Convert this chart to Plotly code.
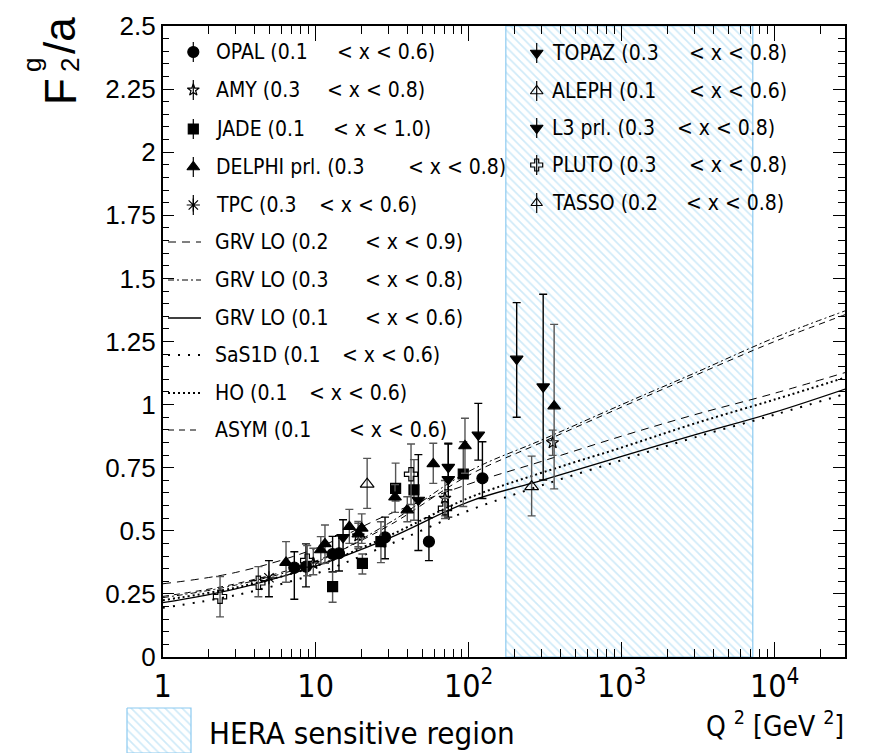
import plotly.graph_objects as go

W, H = 875, 753

# ---------------- data ----------------
OPAL_Q2 = [7.25, 8.64, 12.9, 14.2, 28.4, 55, 123]
OPAL_F = [0.354, 0.358, 0.408, 0.411, 0.474, 0.457, 0.708]
OPAL_UP = [0.063, 0.09, 0.07, 0.07, 0.08, 0.095, 0.145]
OPAL_DN = [0.125, 0.08, 0.07, 0.07, 0.085, 0.075, 0.08]

AMY_Q2 = [9.65, 19.0, 70.0, 354.0]
AMY_F = [0.371, 0.48, 0.629, 0.849]
AMY_UP = [0.06, 0.05, 0.07, 0.05]
AMY_DN = [0.045, 0.05, 0.07, 0.05]

JADE_Q2 = [12.9, 20.2, 26.7, 33.3, 43.9, 92.2]
JADE_F = [0.279, 0.371, 0.457, 0.668, 0.662, 0.725]
JADE_UP = [0.057, 0.037, 0.079, 0.10, 0.12, 0.128]
JADE_DN = [0.062, 0.042, 0.083, 0.05, 0.12, 0.129]

DELPHI_Q2 = [6.4, 10.8, 11.5, 16.6, 19.0, 20.0, 33.0, 39.7, 58.7, 94.6, 362.0]
DELPHI_F = [0.374, 0.424, 0.448, 0.516, 0.487, 0.510, 0.633, 0.582, 0.765, 0.836, 0.994]
DELPHI_UP = [0.083, 0.053, 0.075, 0.069, 0.05, 0.057, 0.05, 0.053, 0.082, 0.11, 0.324]
DELPHI_DN = [0.078, 0.053, 0.077, 0.066, 0.05, 0.06, 0.06, 0.046, 0.077, 0.108, 0.328]

TPC_Q2 = [4.95]
TPC_F = [0.314]
TPC_UP = [0.068]
TPC_DN = [0.075]

TOPAZ_Q2 = [15.1, 46.9, 73.6, 115.6, 206.0]
TOPAZ_F = [0.474, 0.622, 0.752, 0.88, 1.181]
TOPAZ_UP = [0.07, 0.18, 0.095, 0.125, 0.223]
TOPAZ_DN = [0.07, 0.20, 0.09, 0.10, 0.231]

ALEPH_Q2 = [258.0]
ALEPH_F = [0.675]
ALEPH_UP = [0.121]
ALEPH_DN = [0.116]

L3_Q2 = [73.6, 307.0]
L3_F = [0.704, 1.071]
L3_UP = [0.14, 0.366]
L3_DN = [0.15, 0.37]

PLUTO_Q2 = [2.37, 4.22, 8.8, 42.0, 70.0]
PLUTO_F = [0.239, 0.294, 0.382, 0.724, 0.589]
PLUTO_UP = [0.08, 0.064, 0.06, 0.12, 0.04]
PLUTO_DN = [0.08, 0.055, 0.06, 0.12, 0.04]

TASSO_Q2 = [21.7]
TASSO_F = [0.685]
TASSO_UP = [0.102]
TASSO_DN = [0.096]

# theory curves
CURVE_Q2 = [1, 3, 10, 30, 100, 300, 1000, 3000, 10000, 30000]
GRV_02_09 = [0.29, 0.335, 0.43, 0.565, 0.685, 0.775, 0.875, 0.96, 1.045, 1.13]
GRV_03_08 = [0.235, 0.285, 0.375, 0.53, 0.735, 0.86, 1.0, 1.125, 1.265, 1.375]
GRV_01_06 = [0.215, 0.27, 0.36, 0.47, 0.615, 0.70, 0.795, 0.88, 0.97, 1.065]
SAS1D = [0.195, 0.245, 0.33, 0.445, 0.58, 0.68, 0.78, 0.87, 0.96, 1.045]
HO = [0.225, 0.275, 0.36, 0.48, 0.63, 0.73, 0.83, 0.925, 1.02, 1.11]
ASYM = [0.24, 0.29, 0.38, 0.52, 0.72, 0.85, 0.99, 1.115, 1.25, 1.36]

HERA_Q2 = [175, 7200]
Y_RANGE = [0, 2.5]

X_TICKS = [1, 10, 100, 1000, 10000]
X_TICK_TEXT = ["1", "10", "10<sup>2</sup>", "10<sup>3</sup>", "10<sup>4</sup>"]
Y_TICKS = [0, 0.25, 0.5, 0.75, 1, 1.25, 1.5, 1.75, 2, 2.25, 2.5]
Y_TICK_TEXT = ["0", "0.25", "0.5", "0.75", "1", "1.25", "1.5", "1.75", "2", "2.25", "2.5"]

# ---------------- styling ----------------
NARROW = "Liberation Sans Narrow, Arial Narrow, DejaVu Sans Condensed, sans-serif"
WIDE = "Liberation Sans, Arial, sans-serif"
HATCH = "#9fd6f2"
HATCH_EDGE = "#8ccaf0"

# plot area in pixels
PL, PR, PT, PB = 162.7, 845.0, 26.0, 657.0

fig = go.Figure()

# HERA region (hatched)
fig.add_trace(go.Scatter(
    x=[HERA_Q2[0], HERA_Q2[1], HERA_Q2[1], HERA_Q2[0], HERA_Q2[0]],
    y=[Y_RANGE[0], Y_RANGE[0], Y_RANGE[1], Y_RANGE[1], Y_RANGE[0]],
    fill="toself", mode="lines",
    line=dict(color=HATCH_EDGE, width=1.2),
    fillcolor="rgba(0,0,0,0)",
    fillpattern=dict(shape="\\", fgcolor=HATCH, size=6, solidity=0.28),
    hoverinfo="skip", showlegend=False,
))

curves = [
    (GRV_02_09, dict(color="black", width=1.0, dash="8px,6px")),
    (GRV_03_08, dict(color="black", width=1.0, dash="6px,3px,2px,3px")),
    (GRV_01_06, dict(color="black", width=1.3)),
    (SAS1D, dict(color="black", width=2.0, dash="2px,8px")),
    (HO, dict(color="black", width=2.0, dash="2px,3px")),
    (ASYM, dict(color="black", width=1.0, dash="6px,5px")),
]
for yv, ln in curves:
    fig.add_trace(go.Scatter(x=CURVE_Q2, y=yv, mode="lines", line=dict(shape="spline", **ln),
                             showlegend=False, hoverinfo="skip"))

GRAY = "#555555"
series = [
    (OPAL_Q2, OPAL_F, OPAL_UP, OPAL_DN, "circle", 11, "black"),
    (AMY_Q2, AMY_F, AMY_UP, AMY_DN, "star-open", 9, GRAY),
    (JADE_Q2, JADE_F, JADE_UP, JADE_DN, "square", 10, GRAY),
    (DELPHI_Q2, DELPHI_F, DELPHI_UP, DELPHI_DN, "triangle-up", 11, GRAY),
    (TPC_Q2, TPC_F, TPC_UP, TPC_DN, "asterisk-open", 11, "black"),
    (TOPAZ_Q2, TOPAZ_F, TOPAZ_UP, TOPAZ_DN, "triangle-down", 11, "black"),
    (ALEPH_Q2, ALEPH_F, ALEPH_UP, ALEPH_DN, "triangle-up-open", 12, GRAY),
    (L3_Q2, L3_F, L3_UP, L3_DN, "triangle-down", 11, "black"),
    (PLUTO_Q2, PLUTO_F, PLUTO_UP, PLUTO_DN, "cross-open", 11, GRAY),
    (TASSO_Q2, TASSO_F, TASSO_UP, TASSO_DN, "triangle-up-open", 12, GRAY),
]
for qx, fy, up, dn, sym, sz, ecol in series:
    fig.add_trace(go.Scatter(
        x=qx, y=fy, mode="markers",
        marker=dict(symbol=sym, size=sz, color="black", line=dict(color="black", width=1.2)),
        error_y=dict(type="data", symmetric=False, array=up, arrayminus=dn,
                     color=ecol, thickness=1.4, width=4),
        showlegend=False, hoverinfo="skip",
    ))

# ---------------- legend (pixel overlay axes) ----------------
def P(x, y):
    return x / W, 1 - y / H

leg_markers = [
    (193.3, 52, "circle", 11, "OPAL (0.1", 335, "< x < 0.6)"),
    (193.3, 90, "star-open", 9, "AMY (0.3", 325, "< x < 0.8)"),
    (193.3, 129, "square", 10, "JADE (0.1", 330.7, "< x < 1.0)"),
    (193.3, 167, "triangle-up", 11, "DELPHI prl. (0.3", 406, "< x < 0.8)"),
    (193.3, 205, "asterisk-open", 11, "TPC (0.3", 316.7, "< x < 0.6)"),
    (536.7, 53, "triangle-down", 11, "TOPAZ (0.3", 686.7, "< x < 0.8)"),
    (536.7, 91, "triangle-up-open", 11, "ALEPH (0.1", 686.7, "< x < 0.6)"),
    (536.7, 128, "triangle-down", 11, "L3 prl. (0.3", 675, "< x < 0.8)"),
    (536.7, 165, "cross-open", 10, "PLUTO (0.3", 686.7, "< x < 0.8)"),
    (536.7, 203, "triangle-up-open", 10, "TASSO (0.2", 684, "< x < 0.8)"),
]
for mx, my, sym, sz, t1, x2, t2 in leg_markers:
    fig.add_trace(go.Scatter(x=[mx, mx], y=[my - 10, my + 10], mode="lines",
                             line=dict(color="black", width=1.2), xaxis="x2", yaxis="y2",
                             showlegend=False, hoverinfo="skip"))
    fig.add_trace(go.Scatter(x=[mx], y=[my], mode="markers",
                             marker=dict(symbol=sym, size=sz, color="black",
                                         line=dict(color="black", width=1.2)),
                             xaxis="x2", yaxis="y2", showlegend=False, hoverinfo="skip"))
    tx = mx + 21 if mx < 300 else mx + 13.5
    for xx, tt in ((tx, t1), (x2, t2)):
        ax, ay = P(xx, my)
        fig.add_annotation(x=ax, y=ay, xref="paper", yref="paper", text=tt, showarrow=False,
                           xanchor="left", yanchor="middle",
                           font=dict(family=NARROW, size=21, color="black"))

leg_lines = [
    (242, curves[0][1], "GRV LO (0.2", 363.3, "< x < 0.9)"),
    (280, curves[1][1], "GRV LO (0.3", 363.3, "< x < 0.8)"),
    (318, curves[2][1], "GRV LO (0.1", 363.3, "< x < 0.6)"),
    (355, curves[3][1], "SaS1D (0.1", 340, "< x < 0.6)"),
    (393, curves[4][1], "HO (0.1", 306.7, "< x < 0.6)"),
    (430, curves[5][1], "ASYM (0.1", 346.7, "< x < 0.6)"),
]
for ly, ln, t1, x2, t2 in leg_lines:
    fig.add_trace(go.Scatter(x=[168, 201], y=[ly, ly], mode="lines", line=ln,
                             xaxis="x2", yaxis="y2", showlegend=False, hoverinfo="skip"))
    for xx, tt in ((213.3, t1), (x2, t2)):
        ax, ay = P(xx, ly)
        fig.add_annotation(x=ax, y=ay, xref="paper", yref="paper", text=tt, showarrow=False,
                           xanchor="left", yanchor="middle",
                           font=dict(family=NARROW, size=21, color="black"))

# HERA legend box
fig.add_trace(go.Scatter(
    x=[127, 191, 191, 127, 127], y=[708, 708, 753, 753, 708], mode="lines", fill="toself",
    line=dict(color=HATCH_EDGE, width=1.2), fillcolor="rgba(0,0,0,0)",
    fillpattern=dict(shape="\\", fgcolor=HATCH, size=6, solidity=0.28),
    xaxis="x2", yaxis="y2", showlegend=False, hoverinfo="skip"))
ax, ay = P(207, 733)
fig.add_annotation(x=ax, y=ay, xref="paper", yref="paper", text="HERA sensitive region",
                   showarrow=False, xanchor="left", yanchor="middle",
                   font=dict(family=NARROW, size=31, color="black"))

# axis titles
ax, ay = P(846, 724)
fig.add_annotation(x=ax, y=ay, xref="paper", yref="paper",
                   text="Q <sup>2</sup> [GeV <sup>2</sup>]", showarrow=False,
                   xanchor="right", yanchor="middle",
                   font=dict(family=NARROW, size=28, color="black"))
for txt, cx, cy, sz in (("F", 60, 92, 44), ("2", 70, 65, 26), ("g", 32, 65, 26), ("/a", 60, 36, 44)):
    ax, ay = P(cx, cy)
    fig.add_annotation(x=ax, y=ay, xref="paper", yref="paper", text=txt, showarrow=False,
                       textangle=-90, xanchor="center", yanchor="middle",
                       font=dict(family=WIDE, size=sz, color="black"))

minor_x = [m * 10 ** e for e in range(0, 5) for m in range(2, 10)]

fig.update_layout(
    width=W, height=H, margin=dict(l=0, r=0, t=0, b=0),
    paper_bgcolor="white", plot_bgcolor="rgba(0,0,0,0)",
    showlegend=False,
    xaxis=dict(type="log", range=[0, 4.46], domain=[PL / W, PR / W],
               tickvals=X_TICKS, ticktext=X_TICK_TEXT, ticks="inside", ticklen=15,
               tickwidth=1.2, tickcolor="black",
               minor=dict(tickvals=minor_x, ticks="inside", ticklen=8, tickwidth=1, tickcolor="black"),
               showline=True, linecolor="black", linewidth=1.5, mirror="ticks",
               showgrid=False, zeroline=False, automargin=False,
               tickfont=dict(family=NARROW, size=32, color="black")),
    yaxis=dict(range=Y_RANGE, domain=[1 - PB / H, 1 - PT / H],
               tickvals=Y_TICKS, ticktext=Y_TICK_TEXT, ticks="inside", ticklen=12,
               tickwidth=1.2, tickcolor="black",
               minor=dict(dtick=0.05, ticks="inside", ticklen=7, tickwidth=1, tickcolor="black"),
               showline=True, linecolor="black", linewidth=1.5, mirror="ticks",
               showgrid=False, zeroline=False, automargin=False,
               tickfont=dict(family=WIDE, size=26, color="black")),
    xaxis2=dict(range=[0, W], domain=[0, 1], anchor="y2", visible=False, fixedrange=True),
    yaxis2=dict(range=[H, 0], domain=[0, 1], anchor="x2", visible=False, fixedrange=True),
)

fig.write_html("out.html")
